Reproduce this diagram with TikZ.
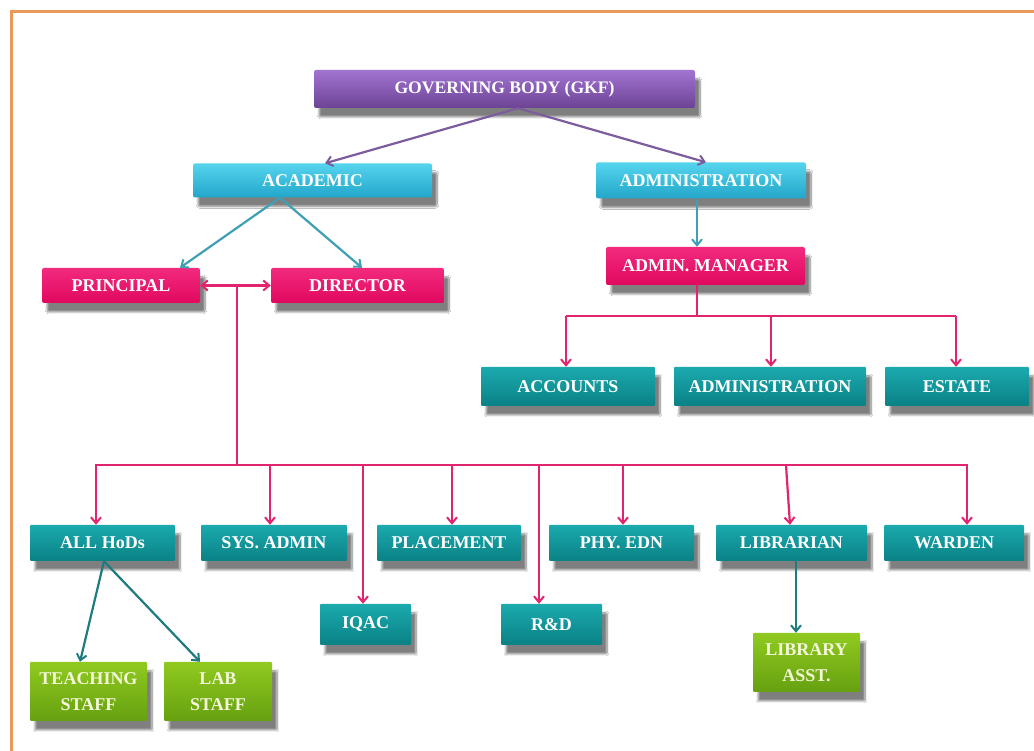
\documentclass[tikz,border=0pt]{standalone}
\usepackage{fontspec}
\setmainfont{Liberation Serif}
\usetikzlibrary{arrows.meta,shadows.blur}
\definecolor{gkfTop}{HTML}{A274D2}
\definecolor{gkfBot}{HTML}{6C4394}
\definecolor{cyTop}{HTML}{55D4EE}
\definecolor{cyBot}{HTML}{22A6CA}
\definecolor{mgTop}{HTML}{F22A7E}
\definecolor{mgBot}{HTML}{E0085F}
\definecolor{tlTop}{HTML}{1BAAAE}
\definecolor{tlBot}{HTML}{0A8185}
\definecolor{grTop}{HTML}{90CA20}
\definecolor{grBot}{HTML}{66A010}
\definecolor{cPurple}{HTML}{7C5C9C}
\definecolor{cCyan}{HTML}{3E9FB5}
\definecolor{cMag}{HTML}{E2246E}
\definecolor{cTeal}{HTML}{1E7B80}
\definecolor{frameOr}{HTML}{E9995A}
\definecolor{grText}{HTML}{F4F7D8}
\tikzset{
  wh/.style 2 args={minimum width=#1pt, minimum height=#2pt},
  box/.style={rectangle, rounded corners=2pt, inner sep=0pt, align=center, text=white,
    font=\bfseries\fontsize{18}{26}\selectfont,
    blur shadow={shadow xshift=5pt, shadow yshift=-9pt, shadow opacity=50, shadow blur steps=10}},
  purplebox/.style={box, top color=gkfTop, bottom color=gkfBot, font=\bfseries\fontsize{17.6}{20}\selectfont},
  cyanbox/.style={box, top color=cyTop, bottom color=cyBot},
  magbox/.style={box, top color=mgTop, bottom color=mgBot},
  tealbox/.style={box, rounded corners=1pt, top color=tlTop, bottom color=tlBot},
  greenbox/.style={box, rounded corners=1pt, top color=grTop, bottom color=grBot, text=grText},
  conn/.style={line width=2.2pt, -{Straight Barb[length=6pt,width=10pt,line width=2pt]}},
  purpleconn/.style={conn, draw=cPurple},
  cyanconn/.style={conn, draw=cCyan},
  magconn/.style={conn, draw=cMag},
  magline/.style={line width=2.2pt, draw=cMag},
  tealconn/.style={conn, draw=cTeal},
}
\begin{document}
\begin{tikzpicture}[x=1pt,y=1pt]
\useasboundingbox (0,0) rectangle (1034,751);
\fill[white] (0,0) rectangle (1034,751);
\draw[frameOr, line width=3pt] (11,0) -- (11,739.5) -- (1034,739.5);

% nodes
\node[purplebox, wh={381}{38}] (gkf) at (504.5,662) {GOVERNING BODY (GKF)};
\node[cyanbox, wh={239}{34}] (acad) at (312.5,570.5) {ACADEMIC};
\node[cyanbox, wh={210}{36}] (admin) at (701,570.5) {ADMINISTRATION};
\node[magbox, wh={158}{35}] (principal) at (121,465.5) {PRINCIPAL};
\node[magbox, wh={173}{35}] (director) at (357.5,465.5) {DIRECTOR};
\node[magbox, wh={199}{38}] (amgr) at (705.5,485) {ADMIN. MANAGER};
\node[tealbox, wh={174}{39}] (accounts) at (568,364.5) {ACCOUNTS};
\node[tealbox, wh={192}{39}] (admintwo) at (770,364.5) {ADMINISTRATION};
\node[tealbox, wh={144}{39}] (estate) at (957,364.5) {ESTATE};
\node[tealbox, wh={145}{36}] (hods) at (102.5,208) {ALL HoDs};
\node[tealbox, wh={146}{36}] (sysadmin) at (274,208) {SYS. ADMIN};
\node[tealbox, wh={144}{36}] (placement) at (449,208) {PLACEMENT};
\node[tealbox, wh={145}{36}] (phyedn) at (621.5,208) {PHY. EDN};
\node[tealbox, wh={151}{36}] (librarian) at (791.5,208) {LIBRARIAN};
\node[tealbox, wh={140}{36}] (warden) at (954,208) {WARDEN};
\node[tealbox, wh={91}{41}] (iqac) at (365.5,126.5) {IQAC};
\node[tealbox, wh={101}{41}] (rnd) at (551.5,126.5) {R\&D};
\node[greenbox, wh={117}{59}] (teaching) at (88.5,59.5) {TEACHING\\STAFF};
\node[greenbox, wh={108}{59}] (lab) at (218,59.5) {LAB\\STAFF};
\node[greenbox, wh={107}{59}] (libasst) at (806.5,88.5) {LIBRARY\\ASST.};

% top connectors
\draw[purpleconn] ([xshift=13.5pt]gkf.south) -- ([xshift=12.5pt]acad.north);
\draw[purpleconn] ([xshift=13.5pt]gkf.south) -- ([xshift=5pt]admin.north);
\draw[cyanconn] ([xshift=-32.5pt]acad.south) -- ([xshift=59pt]principal.north);
\draw[cyanconn] ([xshift=-32.5pt]acad.south) -- ([xshift=4.5pt]director.north);
\draw[cyanconn] ([xshift=-4pt]admin.south) -- ([xshift=-8.5pt]amgr.north);

% principal <-> director and trunk
\draw[magline, {Straight Barb[length=6pt,width=10pt,line width=2pt]}-{Straight Barb[length=6pt,width=10pt,line width=2pt]}] (principal.east) -- (director.west);
\coordinate (trtop) at (237,465.5);
\coordinate (b1) at (96,286);
\coordinate (b2) at (270,286);
\coordinate (b3) at (363,286);
\coordinate (b4) at (452,286);
\coordinate (b5) at (539,286);
\coordinate (b6) at (623,286);
\coordinate (b7) at (786,286);
\coordinate (b8) at (967,286);
\draw[magline] (trtop) -- (trtop |- b1);
\draw[magline, line cap=rect] (b1) -- (b8);
\draw[magconn] (b1) -- (b1 |- hods.north);
\draw[magconn] (b2) -- (b2 |- sysadmin.north);
\draw[magconn] (b3) -- (b3 |- iqac.north);
\draw[magconn] (b4) -- (b4 |- placement.north);
\draw[magconn] (b5) -- (b5 |- rnd.north);
\draw[magconn] (b6) -- (b6 |- phyedn.north);
\draw[magconn] (b7) -- ([xshift=-1.5pt]librarian.north);
\draw[magconn] (b8) -- (b8 |- warden.north);

% admin manager branch
\coordinate (am) at (697,435);
\coordinate (a1) at (566,435);
\coordinate (a2) at (771,435);
\coordinate (a3) at (956,435);
\draw[magline] ([xshift=-8.5pt]amgr.south) -- (am);
\draw[magline] (a1) -- (a3);
\draw[magconn] (a1) -- (a1 |- accounts.north);
\draw[magconn] (a2) -- (a2 |- admintwo.north);
\draw[magconn] (a3) -- (a3 |- estate.north);

% lower connectors
\draw[tealconn] ([xshift=1.5pt]hods.south) -- ([xshift=-8.5pt]teaching.north);
\draw[tealconn] ([xshift=1.5pt]hods.south) -- ([xshift=-18pt]lab.north);
\draw[tealconn] ([xshift=4.5pt]librarian.south) -- ([xshift=-10.5pt]libasst.north);
\end{tikzpicture}
\end{document}
